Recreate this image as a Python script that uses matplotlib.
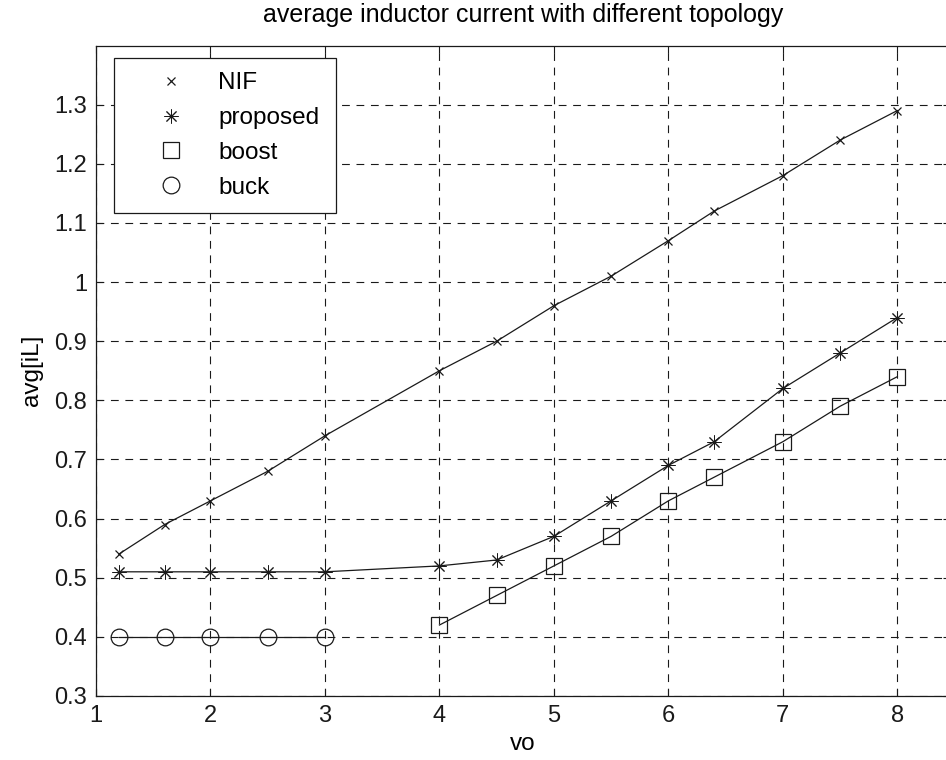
import matplotlib
matplotlib.use("Agg")
import matplotlib.pyplot as plt
from matplotlib.lines import Line2D

plt.rcParams['font.family'] = ['Liberation Sans', 'DejaVu Sans']

# data
nif_x = [1.2, 1.6, 2, 2.5, 3, 4, 4.5, 5, 5.5, 6, 6.4, 7, 7.5, 8]
nif_y = [0.54, 0.59, 0.63, 0.68, 0.74, 0.85, 0.90, 0.96, 1.01, 1.07, 1.12, 1.18, 1.24, 1.29]

prop_x = [1.2, 1.6, 2, 2.5, 3, 4, 4.5, 5, 5.5, 6, 6.4, 7, 7.5, 8]
prop_y = [0.51, 0.51, 0.51, 0.51, 0.51, 0.52, 0.53, 0.57, 0.63, 0.69, 0.73, 0.82, 0.88, 0.94]

boost_x = [4, 4.5, 5, 5.5, 6, 6.4, 7, 7.5, 8]
boost_y = [0.42, 0.47, 0.52, 0.57, 0.63, 0.67, 0.73, 0.79, 0.84]

buck_x = [1.2, 1.6, 2, 2.5, 3]
buck_y = [0.40, 0.40, 0.40, 0.40, 0.40]

labels = ['NIF', 'proposed', 'boost', 'buck']
x_ticks = [1, 2, 3, 4, 5, 6, 7, 8]
y_ticks = [0.3, 0.4, 0.5, 0.6, 0.7, 0.8, 0.9, 1, 1.1, 1.2, 1.3]

W, H = 946, 760
fig = plt.figure(figsize=(W / 100, H / 100), dpi=100)
# axes run a little past the right edge, like the cropped original
ax_l, ax_r, ax_t, ax_b = 96, 950, 45.5, 696
ax = fig.add_axes([ax_l / W, (H - ax_b) / H, (ax_r - ax_l) / W, (ax_b - ax_t) / H])

ink = '#1a1a1a'
lw = 0.9
star = (8, 2, 0)
fs = 17.5

ax.plot(nif_x, nif_y, color=ink, lw=lw, marker='x', ms=6, mew=0.9)
ax.plot(prop_x, prop_y, color=ink, lw=lw, marker=star, ms=10, mew=0.7)
ax.plot(boost_x, boost_y, color=ink, lw=lw, marker='s', ms=11.5, mfc='none', mew=0.9)
ax.plot(buck_x, buck_y, color=ink, lw=lw, marker='o', ms=12, mfc='none', mew=0.9)

ax.set_xlim(1, 8.46)
ax.set_ylim(0.3, 1.4)
ax.set_xticks(x_ticks)
ax.set_xticklabels([str(v) for v in x_ticks])
ax.set_yticks(y_ticks)
ax.set_yticklabels(['%g' % v for v in y_ticks])

ax.grid(True, color=ink, lw=0.8, linestyle=(0, (7, 6)))
ax.tick_params(direction='in', length=5, width=0.8, colors=ink, labelsize=17,
               top=True, right=True, pad=6.5)
for s in ax.spines.values():
    s.set_color(ink)
    s.set_linewidth(0.9)

ax.set_title('average inductor current with different topology', fontsize=18, pad=17)
ax.set_xlabel('vo', fontsize=fs, labelpad=4)
ax.set_ylabel('avg[iL]', fontsize=fs, labelpad=8)

handles = [
    Line2D([], [], ls='none', color=ink, marker='x', ms=6, mew=0.9),
    Line2D([], [], ls='none', color=ink, marker=star, ms=10, mew=0.7),
    Line2D([], [], ls='none', color=ink, marker='s', ms=11.5, mfc='none', mew=0.9),
    Line2D([], [], ls='none', color=ink, marker='o', ms=12, mfc='none', mew=0.9),
]
# legend box from (114, 58) to (336, 208) px
aw, ah = ax_r - ax_l, ax_b - ax_t
bx0 = (114 - ax_l) / aw
bw = (336 - 114) / aw
by1 = (ax_b - 58) / ah
bh = (208 - 58) / ah
leg = ax.legend(handles, labels, loc='upper left',
                bbox_to_anchor=(bx0, by1 - bh, bw, bh), mode='expand',
                borderaxespad=0, fontsize=fs, fancybox=False, framealpha=1,
                edgecolor=ink, borderpad=0.58, labelspacing=0.53,
                handlelength=3.5, handletextpad=0.2)
leg.get_frame().set_linewidth(0.9)

fig.savefig('out.png', dpi=100)
